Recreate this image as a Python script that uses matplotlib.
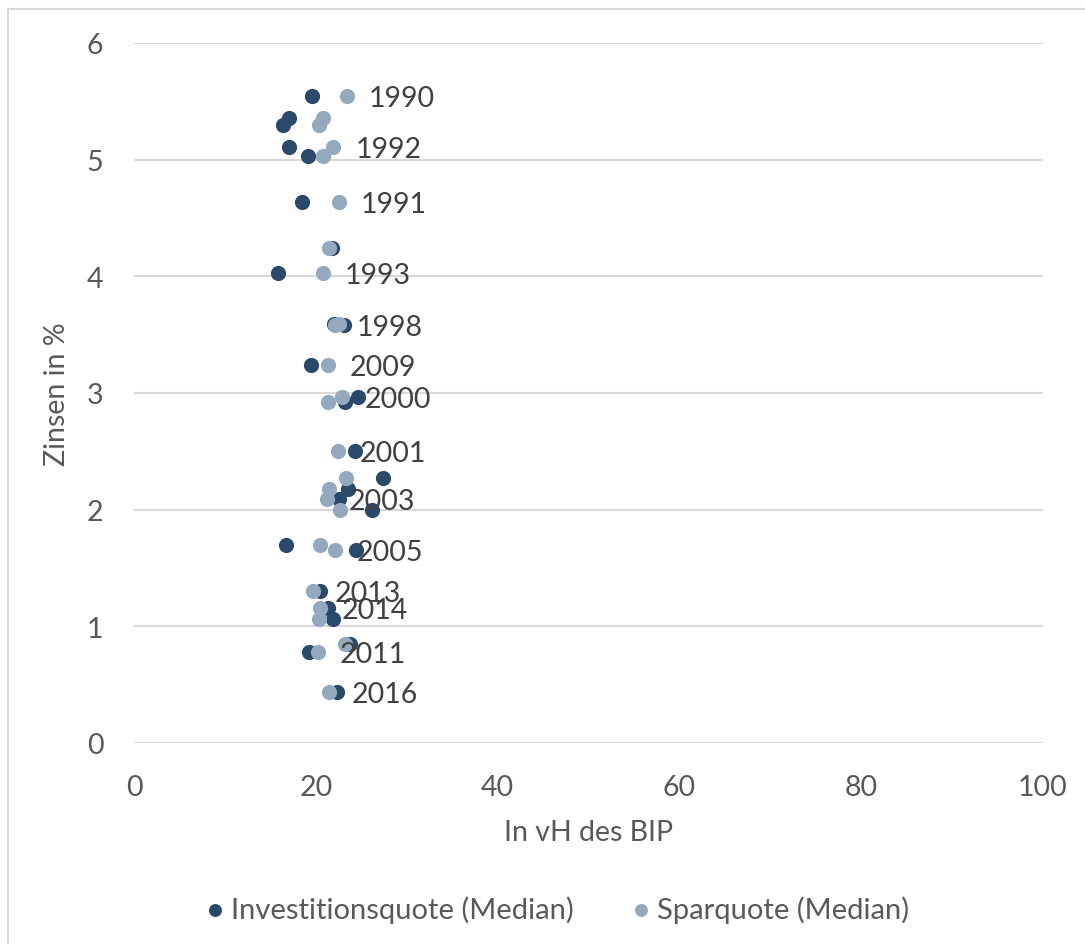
import matplotlib
matplotlib.use("Agg")
import matplotlib.pyplot as plt
from matplotlib.patches import Rectangle

zinsen = [5.55, 5.36, 5.30, 5.11, 5.03, 4.64, 4.24, 4.03, 3.59, 3.585, 3.24, 2.97, 2.92,
          2.50, 2.27, 2.18, 2.09, 2.00, 1.70, 1.655, 1.30, 1.155, 1.06, 0.85, 0.78, 0.435]
investition = [19.6, 17.0, 16.4, 17.05, 19.1, 18.5, 21.75, 15.8, 22.0, 23.1, 19.5, 24.6, 23.2,
               24.3, 27.4, 23.5, 22.5, 26.2, 16.7, 24.4, 20.45, 21.3, 21.85, 23.8, 19.3, 22.3]
sparquote = [23.4, 20.8, 20.3, 21.9, 20.8, 22.55, 21.4, 20.75, 22.6, 22.1, 21.3, 22.9, 21.3,
             22.4, 23.3, 21.5, 21.2, 22.7, 20.5, 22.1, 19.65, 20.45, 20.3, 23.2, 20.2, 21.5]
labels = ["1990", "", "", "1992", "", "1991", "", "1993", "", "1998", "2009", "2000", "",
          "2001", "", "", "2003", "", "", "2005", "2013", "2014", "", "", "2011", "2016"]
x_ticks = [0, 20, 40, 60, 80, 100]
y_ticks = [0, 1, 2, 3, 4, 5, 6]

DARK = "#2b4a6b"
LIGHT = "#94a9be"
TXT = "#595959"

plt.rcParams["font.family"] = ["Lato", "DejaVu Sans"]

fig = plt.figure(figsize=(10.85, 9.45), dpi=100)
ax = fig.add_axes([134/1085, 201/945, 909/1085, 700/945])

ax.scatter(investition, zinsen, s=120, color=DARK, zorder=3, linewidths=0,
           label="Investitionsquote (Median)")
ax.scatter(sparquote, zinsen, s=120, color=LIGHT, zorder=4, linewidths=0,
           label="Sparquote (Median)")
for xv, yv, lab in zip(sparquote, zinsen, labels):
    if lab:
        ax.annotate(lab, (xv, yv), xytext=(16, -1.5), textcoords="offset points",
                    ha="left", va="center", fontsize=20.5, color="#404040", zorder=5)

ax.set_xlim(0, 100)
ax.set_ylim(0, 6)
ax.set_xticks(x_ticks)
ax.set_yticks(y_ticks)
ax.grid(axis="y", color="#d9d9d9", linewidth=1.5, zorder=0)
ax.set_axisbelow(True)
for sp in ax.spines.values():
    sp.set_visible(False)
ax.tick_params(length=0, labelsize=20.5, labelcolor=TXT)
ax.tick_params(axis="y", pad=22)
ax.tick_params(axis="x", pad=22)
ax.set_xlabel("In vH des BIP", fontsize=20.5, color=TXT, labelpad=14)
ax.set_ylabel("Zinsen in %", fontsize=20.5, color=TXT, labelpad=12)

leg = fig.legend(loc="center", bbox_to_anchor=(0.513, 0.037), ncol=2, frameon=False,
                 fontsize=21, labelcolor=TXT, markerscale=0.85, handlelength=0.8,
                 handletextpad=0.15, columnspacing=1.9)

fig.patches.append(Rectangle((8/1085, -0.1), 1.2, 1 - 10/945 + 0.1, transform=fig.transFigure,
                             fill=False, edgecolor="#d9d9d9", linewidth=1.5))

fig.savefig("out.png", dpi=100)
